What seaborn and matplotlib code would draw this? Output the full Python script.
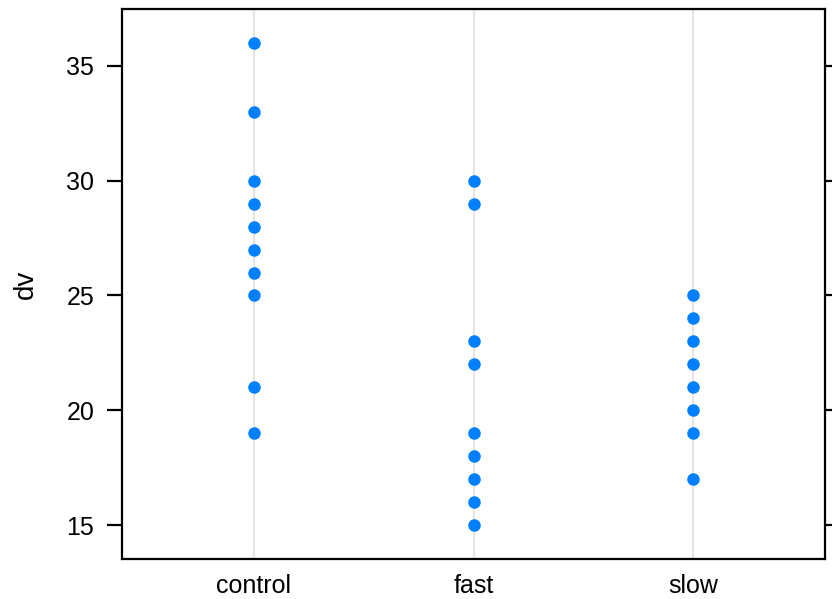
import matplotlib
matplotlib.use("Agg")
import matplotlib.pyplot as plt
import seaborn as sns
import pandas as pd

# Observed values per group
groups = ["control", "fast", "slow"]
control_dv = [36, 33, 30, 29, 28, 27, 26, 25, 21, 19]
fast_dv = [30, 29, 23, 22, 19, 18, 17, 16, 15]
slow_dv = [25, 24, 23, 22, 21, 20, 19, 17]
y_ticks = [15, 20, 25, 30, 35]

df = pd.DataFrame({
    "group": ["control"] * len(control_dv) + ["fast"] * len(fast_dv) + ["slow"] * len(slow_dv),
    "dv": control_dv + fast_dv + slow_dv,
})

sns.set_style("white")
plt.rcParams["font.family"] = ["Liberation Sans", "DejaVu Sans"]
plt.rcParams["text.color"] = "black"
plt.rcParams["axes.labelcolor"] = "black"
plt.rcParams["xtick.color"] = "black"
plt.rcParams["ytick.color"] = "black"

fig = plt.figure(figsize=(8.32, 5.99), dpi=100)
ax = fig.add_axes([122 / 832, 40 / 599, 703 / 832, 550 / 599])

# light vertical reference lines behind each group
for i in range(len(groups)):
    ax.axvline(i, color="#e6e6e6", lw=1.5, zorder=0)

sns.stripplot(data=df, x="group", y="dv", order=groups, jitter=False,
              color="#0080ff", size=9, linewidth=0, ax=ax, zorder=3)

ax.set_xlim(-0.6, 2.6)
ax.set_ylim(13.53, 37.47)
ax.set_yticks(y_ticks)
ax.set_xlabel("")
ax.set_ylabel("dv", fontsize=20, labelpad=20)

for s in ax.spines.values():
    s.set_visible(True)
    s.set_color("black")
    s.set_linewidth(1.6)

ax.tick_params(axis="y", which="both", left=True, right=True, direction="out",
               length=11, width=1.6, color="black", labelsize=18, pad=9)
ax.tick_params(axis="x", bottom=False, labelsize=18, pad=7)

fig.savefig("out.png", dpi=100)
